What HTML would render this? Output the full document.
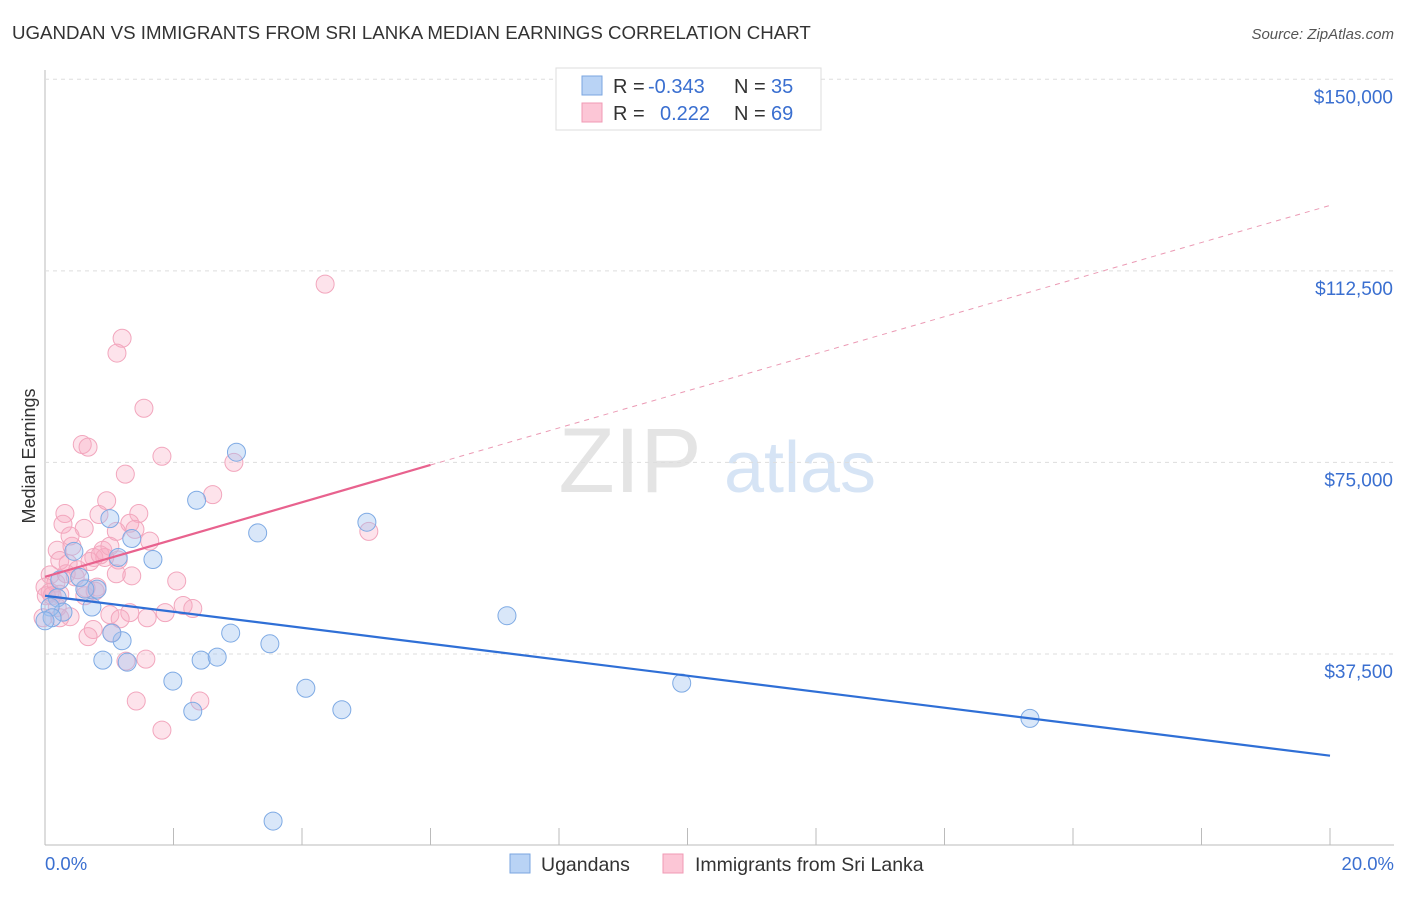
<!DOCTYPE html>
<html><head><meta charset="utf-8"><style>
body{margin:0;background:#fff;font-family:"Liberation Sans",sans-serif;}
svg text{font-family:"Liberation Sans",sans-serif;}
</style></head><body>
<svg id="c" width="1406" height="892">
<text x="12" y="39" font-size="18.7" fill="#333">UGANDAN VS IMMIGRANTS FROM SRI LANKA MEDIAN EARNINGS CORRELATION CHART</text>
<text x="1394" y="39" font-size="15" fill="#555" font-style="italic" text-anchor="end">Source: ZipAtlas.com</text>
<text x="35" y="456" font-size="18" fill="#333" transform="rotate(-90 35 456)" text-anchor="middle">Median Earnings</text>
<text x="630" y="492" font-size="92" fill="#e4e4e4" font-family="Liberation Serif" text-anchor="middle">ZIP</text>
<text x="800" y="492" font-size="72" fill="#d6e4f5" text-anchor="middle">atlas</text>
<g id="grid"></g><g id="pts"></g><g id="lines"></g>
<g>
<rect x="556" y="68" width="265" height="62" fill="#fff" stroke="#ddd"/>
<rect x="582" y="76" width="20" height="19" fill="#b9d3f5" stroke="#7aa6e0"/>
<rect x="582" y="103" width="20" height="19" fill="#fcc6d6" stroke="#f09ab4"/>
<text x="613" y="93" font-size="20" fill="#333">R = <tspan x="648" fill="#3a6fd0">-0.343</tspan><tspan x="734">N = </tspan><tspan x="771" fill="#3a6fd0">35</tspan></text>
<text x="613" y="120" font-size="20" fill="#333">R = <tspan x="660" fill="#3a6fd0">0.222</tspan><tspan x="734">N = </tspan><tspan x="771" fill="#3a6fd0">69</tspan></text>
</g>
<g>
<rect x="510" y="854" width="20" height="19" fill="#b9d3f5" stroke="#7aa6e0"/>
<text x="541" y="871" font-size="19.5" fill="#333">Ugandans</text>
<rect x="663" y="854" width="20" height="19" fill="#fcc6d6" stroke="#f09ab4"/>
<text x="695" y="871" font-size="19.5" fill="#333">Immigrants from Sri Lanka</text>
</g>
<text x="45" y="870" font-size="18.5" fill="#3a6fd0">0.0%</text>
<text x="1394" y="870" font-size="18.5" fill="#3a6fd0" text-anchor="end">20.0%</text>
</svg>
<script>
const yTicks=[37500,75000,112500,150000];
const yTickLabels=["$37,500","$75,000","$112,500","$150,000"];
const xTicks=[0,2,4,6,8,10,12,14,16,18,20];
const blueX=[2.98,2.36,3.31,5.01,1.68,1.01,1.35,1.14,0.45,0.81,0.62,0.19,0.28,0.73,0.08,0.11,7.19,2.89,3.50,1.20,1.04,0.90,1.28,2.43,2.68,1.99,4.06,9.91,2.30,4.62,15.33,3.55,0.54,0.0,0.23];
const blueY=[77000,67600,61200,63300,56000,64000,60100,56400,57600,50200,50200,48500,45700,46700,46700,44600,45000,41600,39500,40100,41600,36300,35900,36300,36900,32200,30800,31800,26300,26600,24900,4800,52500,44000,52000];
const pinkX=[4.36,1.20,1.12,1.54,0.58,0.67,1.82,2.94,1.25,2.61,0.96,0.31,1.46,0.84,1.32,5.04,0.28,0.61,1.40,1.11,0.19,0.90,1.14,0.76,0.23,0.36,1.35,0.08,0.47,0.17,0.81,2.05,0.0,0.08,0.64,2.15,0.23,1.01,1.87,2.30,1.32,0.39,1.59,0.75,0.67,1.04,1.26,1.57,1.42,2.41,1.82,0.33,0.51,0.93,1.11,0.02,0.11,-0.03,0.42,0.70,0.86,1.17,0.19,0.62,1.01,1.63,0.39,0.78,0.23];
const pinkY=[109900,99300,96400,85600,78500,78000,76200,75000,72700,68700,67500,65000,65000,64800,63100,61500,62900,62100,61900,61500,57800,57800,55900,56400,55800,55200,52800,53000,52600,51400,50600,51800,50600,49600,50400,47000,49200,45200,45600,46400,45600,44800,44600,42300,40900,41700,36100,36500,28300,28300,22600,53200,54000,56400,53200,48900,48900,44600,58600,55600,56900,44400,46600,48900,58600,59600,60600,49800,44600];
const blueTrend=[[0,48900],[20,17600]];
const pinkTrendSolid=[[0,52600],[6,74500]];
const pinkTrendDash=[[6,74500],[20,125300]];
const X=v=>45+v*64.25, Y=v=>845.6-v*0.005109;
const NS="http://www.w3.org/2000/svg";
function mk(t,a,p){const e=document.createElementNS(NS,t);for(const k in a)e.setAttribute(k,a[k]);p.appendChild(e);return e;}
const grid=document.getElementById('grid');
mk('line',{x1:45,y1:70,x2:45,y2:845,stroke:'#bbb'},grid);
mk('line',{x1:45,y1:845,x2:1394,y2:845,stroke:'#bbb'},grid);
yTicks.forEach((t,i)=>{
 const g=mk('line',{x1:45,y1:Y(t),x2:1394,y2:Y(t),stroke:'#ddd','stroke-dasharray':'4,4'},grid);
 
 
 const l=mk('text',{x:1393,y:Y(t)+24,'font-size':19,fill:'#3a6fd0','text-anchor':'end'},grid);
 l.textContent=yTickLabels[i];
 
 
});
xTicks.forEach(t=>{
 const k=mk('line',{x1:X(t),y1:828,x2:X(t),y2:845,stroke:'#bbb'},grid);
 
 
});
const pts=document.getElementById('pts');
pinkX.forEach((x,i)=>{
 const c=mk('circle',{cx:X(x),cy:Y(pinkY[i]),r:9,fill:'rgba(248,170,195,0.33)',stroke:'#f2a6bd','stroke-width':1},pts);
 
 
});
blueX.forEach((x,i)=>{
 const c=mk('circle',{cx:X(x),cy:Y(blueY[i]),r:9,fill:'rgba(160,196,240,0.4)',stroke:'#7eaae4','stroke-width':1},pts);
 
 
});
const L=document.getElementById('lines');
const b=mk('line',{x1:X(blueTrend[0][0]),y1:Y(blueTrend[0][1]),x2:X(blueTrend[1][0]),y2:Y(blueTrend[1][1]),stroke:'#2f6fd6','stroke-width':2.2},L);


const p=mk('line',{x1:X(pinkTrendSolid[0][0]),y1:Y(pinkTrendSolid[0][1]),x2:X(pinkTrendSolid[1][0]),y2:Y(pinkTrendSolid[1][1]),stroke:'#e8628e','stroke-width':2.2},L);


const d=mk('line',{x1:X(pinkTrendDash[0][0]),y1:Y(pinkTrendDash[0][1]),x2:X(pinkTrendDash[1][0]),y2:Y(pinkTrendDash[1][1]),stroke:'#eb9ab4','stroke-width':1,'stroke-dasharray':'5,5'},L);


</script>
</body></html>
